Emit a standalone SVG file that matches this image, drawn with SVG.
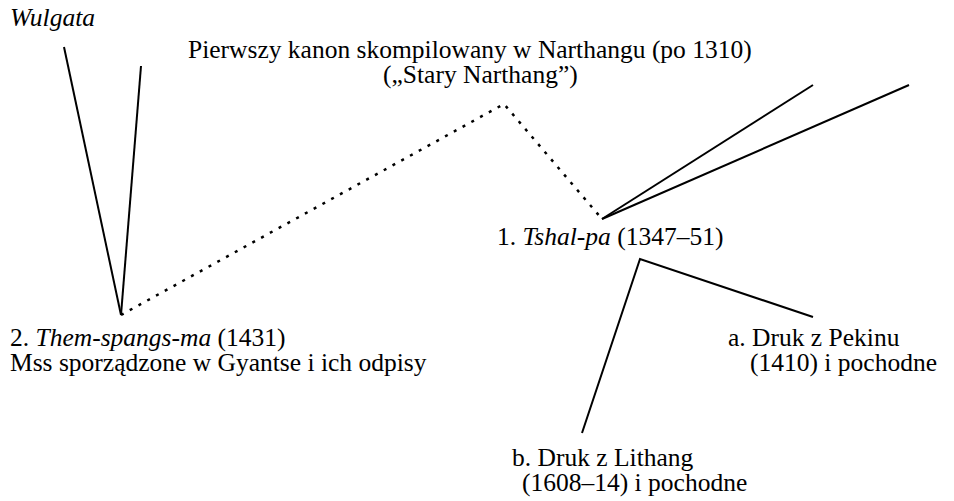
<svg xmlns="http://www.w3.org/2000/svg" width="954" height="501" viewBox="0 0 954 501">
  <style>
    text { font-family: "Liberation Serif", "Times New Roman", serif; font-size: 25.5px; fill: #000; }
    .it { font-style: italic; }
    .solid { stroke: #000; stroke-width: 2; fill: none; }
    .dotted { stroke: #000; stroke-width: 2.5; fill: none; stroke-dasharray: 3 7; }
  </style>
  <rect width="954" height="501" fill="#fff"/>

  <g id="connectors">
    <!-- Vulgate branches converging on Them-spangs-ma -->
    <line class="solid" x1="64" y1="47" x2="121" y2="315"/>
    <line class="solid" x1="141" y1="66" x2="121" y2="315"/>
    <!-- Old Narthang lineage -->
    <polyline class="dotted" points="121,315 504,104 602,219"/>
    <!-- further sources into Tshal-pa -->
    <line class="solid" x1="602" y1="219" x2="813" y2="85"/>
    <line class="solid" x1="602" y1="219" x2="909" y2="85"/>
    <!-- Tshal-pa descendants -->
    <polyline class="solid" points="582,433 640,259 813,317"/>
  </g>

  <g id="wulgata">
    <text class="it" x="10" y="26">Wulgata</text>
  </g>

  <g id="stary-narthang">
    <text x="188" y="58">Pierwszy kanon skompilowany w Narthangu (po 1310)</text>
    <text x="383" y="83">(„Stary Narthang”)</text>
  </g>

  <g id="tshal-pa">
    <text x="497" y="245">1. <tspan class="it">Tshal-pa</tspan> (1347–51)</text>
  </g>

  <g id="them-spangs-ma">
    <text x="10" y="346">2. <tspan class="it">Them-spangs-ma</tspan> (1431)</text>
    <text x="10" y="371">Mss sporządzone w Gyantse i ich odpisy</text>
  </g>

  <g id="pekin">
    <text x="728" y="346">a. Druk z Pekinu</text>
    <text x="750" y="371">(1410) i pochodne</text>
  </g>

  <g id="lithang">
    <text x="512" y="466">b. Druk z Lithang</text>
    <text x="522" y="491">(1608–14) i pochodne</text>
  </g>
</svg>
